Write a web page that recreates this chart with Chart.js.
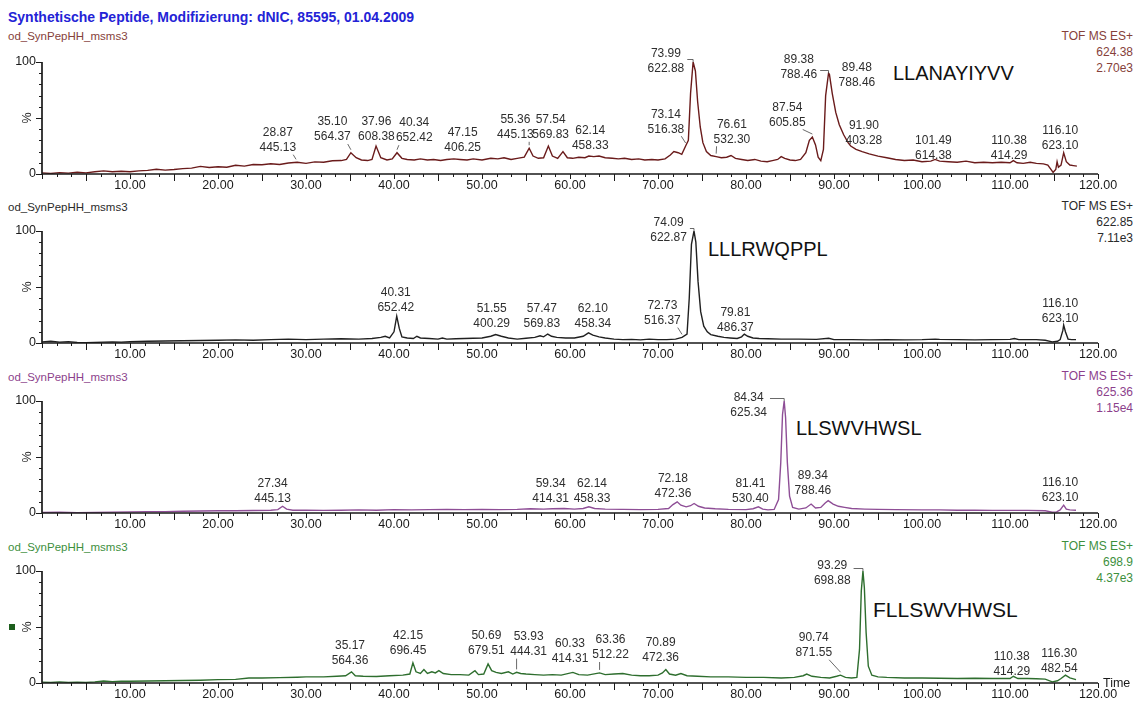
<!DOCTYPE html>
<html>
<head>
<meta charset="utf-8">
<script src="https://cdn.jsdelivr.net/npm/chart.js@4.4.0/dist/chart.umd.min.js"></script>
<style>
body{margin:0;background:#fff;width:1140px;height:707px;overflow:hidden;position:relative;font-family:Arial,"Liberation Sans",sans-serif}
canvas{position:absolute;left:0}
.t{position:absolute;white-space:nowrap}
.sub{left:8px;font-size:11.5px;line-height:14px}
.rt{right:7px;text-align:right;font-size:12px;line-height:16px}
.pep{font-size:20px;line-height:24px;color:#111}
</style>
</head>
<body>
<div class="t" style="left:8px;top:9px;font-size:14px;line-height:16px;font-weight:bold;color:#2323d6">Synthetische Peptide, Modifizierung: dNIC, 85595, 01.04.2009</div>

<div class="t sub" style="top:29px;color:#86413a">od_SynPepHH_msms3</div>
<div class="t sub" style="top:200px;color:#2a2a2a">od_SynPepHH_msms3</div>
<div class="t sub" style="top:370px;color:#8c3f8c">od_SynPepHH_msms3</div>
<div class="t sub" style="top:540px;color:#3d8f3d">od_SynPepHH_msms3</div>

<div class="t rt" style="top:28px;color:#86413a">TOF MS ES+<br>624.38<br>2.70e3</div>
<div class="t rt" style="top:198px;color:#2a2a2a">TOF MS ES+<br>622.85<br>7.11e3</div>
<div class="t rt" style="top:368px;color:#8c3f8c">TOF MS ES+<br>625.36<br>1.15e4</div>
<div class="t rt" style="top:538px;color:#3d8f3d">TOF MS ES+<br>698.9<br>4.37e3</div>

<div class="t pep" style="left:893px;top:61px">LLANAYIYVV</div>
<div class="t pep" style="left:708px;top:237px">LLLRWQPPL</div>
<div class="t pep" style="left:796px;top:416px">LLSWVHWSL</div>
<div class="t pep" style="left:873px;top:598px;font-size:21px">FLLSWVHWSL</div>

<canvas id="c1" width="1140" height="165" style="top:40px"></canvas>
<canvas id="c2" width="1140" height="165" style="top:209px"></canvas>
<canvas id="c3" width="1140" height="165" style="top:379px"></canvas>
<canvas id="c4" width="1140" height="165" style="top:549px"></canvas>

<script>
// x axis labels (minutes)
var xTicks = [10, 20, 30, 40, 50, 60, 70, 80, 90, 100, 110, 120]

// trace 1 - LLANAYIYVV
var t1 = [0,1,2,3,4,5,6,7,8,9,
  10,11,12,13,14,15,16,17,18,19,
  20,21,22,23,24,25,26,27,28,29,
  30,31,32,33,34,34.6,35.1,35.7,36.3,37,
  37.5,37.96,38.5,39.2,39.8,40.34,40.9,41.5,42.3,43,
  43.8,44.5,45.3,46,46.8,47.5,48.3,49,50,51,
  51.8,52.5,53.3,54,54.8,55.36,55.8,56.4,57,57.54,
  58,58.6,59.2,59.7,60.3,61,61.7,62.14,62.7,63.3,
  64,64.8,65.5,66.2,67,67.8,68.5,69.3,70,70.8,
  71.4,71.8,72.3,72.7,73.14,73.45,73.7,73.99,74.25,74.5,
  74.8,75.1,75.5,76,76.61,77.2,77.8,78.3,78.8,79.5,
  80.2,81,81.7,82.4,83,83.6,84,84.4,85,85.6,
  86.2,86.8,87.2,87.54,87.9,88.2,88.5,88.8,89.05,89.38,
  89.48,89.8,90.2,90.6,91.1,91.6,91.9,92.5,93.2,94,
  95,96,97,98,99,100,101,101.49,102,103,
  104,105,106,107,108,109,110,110.38,110.8,111.5,
  112.3,113,113.8,114.3,114.9,115.2,115.35,115.5,115.8,116.1,
  116.4,116.8,117.2,117.6]
var v1 = [1,0.5,1.2,0.8,1.5,1,2,2.8,2,2.5,
  2,2.8,3.2,4.2,3.5,4,4.8,5.2,6.8,5.8,
  6.5,6,7.8,7,8.5,8.2,9.2,8.5,9.8,10.5,
  9.5,10.8,10.5,11.8,12,13,19,14.5,12.5,12,
  13,25,14.5,12.5,13.5,19,14,13,12.5,13.5,
  12.5,13,12,13,13.5,13,12.5,13.5,12.5,14,
  13.5,14.5,13,14,15,23,16,14,14.5,25,
  16,14,20,14.5,14,15,14.5,16,15.5,16,
  14.5,14,13.5,14,13,13.5,12.5,13,12.5,13.5,
  17,20,19,17.5,25,30,72,100,92,65,
  42,28,20,16.5,15.5,14.5,15,16.5,14,13,
  12,13,11.5,11,12,13,15.5,14,12.5,12,
  13,19,30,33,26,15,12,22,70,90,
  89,72,55,44,35,28,25,22,20,18,
  16,14.5,13,12,12.5,11,11.5,13,11.5,11,
  10.5,11.5,10,10.5,10,10.5,10,12,10,9.5,
  10.5,9.5,9,8,1.5,4,11,6,8,19,
  11,8,7.5,7]

// trace 2 - LLLRWQPPL
var t2 = [0,1,2,3,4,5,6,7,8,9,
  10,12,14,16,18,20,22,24,26,28,
  30,32,34,36,37.5,38.5,39,39.5,40,40.31,
  40.6,40.9,41.5,42.2,42.6,43,44,45,45.5,46,
  47,48,49,50,51,51.55,52.2,53,54,55,
  56,56.6,57,57.47,57.9,58.5,59.5,60.5,61.5,62.1,
  62.6,63.3,64,65,66,67,68,69,70,71,
  72,72.73,73.3,73.55,73.8,74.09,74.3,74.55,74.85,75.2,
  75.6,76,76.8,77.5,78.2,79,79.5,79.81,80.2,80.8,
  81.5,82.5,84,86,88,89.4,90,92,94,96,
  98,100,101.5,102,104,106,108,110,110.5,111,
  113,114,114.8,115.4,115.7,116,116.1,116.3,116.6,117,
  117.5]
var v2 = [1,1.5,0.8,1.2,0.5,0.3,0.5,0.8,1,0.8,
  1.2,1.5,1.8,2,2.2,2.5,2.8,2.5,3,3.5,
  3,3.5,3.8,3.5,4,5,6,4.5,10,24,
  13,5.5,4.5,4,6,4.5,4,3.5,4.5,3.5,
  3.8,4,4.2,4.5,6,7.5,6,4.5,3.5,4.2,
  5,6.5,5.5,8,6,5,4.5,4.5,6,9,
  7,5.5,4.5,3.5,3,3.2,2.8,3.5,3,3,
  3.5,5,8,40,88,100,90,55,28,15,
  10,7.5,6,5,4.5,4,5.5,8,6,4.5,
  4,3.8,3.5,3.5,3.2,4.2,3,3,2.8,3,
  2.8,3,3.5,3.2,3,2.8,3,3.2,4,3,
  3,2.5,1,1.5,3,11,16,10,3.5,3,
  3]

// trace 3 - LLSWVHWSL
var t3 = [0,2,4,6,8,10,12,14,16,18,
  20,22,24,26,26.8,27.34,27.8,28.5,30,32,
  34,36,38,40,42,44,46,48,50,52,
  54,55.5,57,58,59.34,60.5,61.5,62.14,62.8,64,
  66,68,70,71.2,71.7,72.18,72.6,73.2,73.7,74.1,
  74.6,75.3,76.5,78,80,80.8,81.41,81.9,82.5,83.2,
  83.7,83.95,84.15,84.34,84.5,84.7,84.95,85.3,86,86.8,
  87.4,87.9,88.5,89,89.34,89.9,90.5,91.2,92,93.5,
  95,97,100,102,104,106,108,110,112,114,
  114.8,115.3,115.7,116.1,116.4,116.8,117.5]
var v3 = [0.5,0.8,0.3,0.6,0.8,1,1.2,1.2,1.5,1.8,
  2,2,2.2,2.5,3,6,3.5,2.5,2.5,2.3,
  2.5,2.8,2.5,3,2.8,3,3.2,3,3.2,3,
  3.2,3.8,3.5,3.8,4,3.5,4,5.5,4,3.5,
  3.2,3,3.2,4,7.5,10,7,5.5,6.5,8.5,
  6,4.5,3.8,3.2,3,3.8,5.5,3.5,2.8,3.2,
  12,45,88,100,85,45,15,5,3.5,4.5,
  8,4.5,5,9,11,8,6,5,4,3.5,
  3.2,3,2.8,2.8,2.5,2.5,2.3,2.3,2.3,2,
  0.8,1,2.8,7,3.5,2.8,2.5]

// trace 4 - FLLSWVHWSL
var t4 = [0,1,2,3,4,5,6,7,8,9,
  10,12,14,16,18,20,22,23.5,25,27,
  29,30,32,33.5,34.5,35.17,35.6,36.5,38,39.5,
  41,41.8,42.15,42.5,43,43.4,43.8,44.3,44.7,45.1,
  45.6,46.5,47.5,48.5,49.2,49.6,50.2,50.69,51.1,51.6,
  52.2,53,53.5,53.93,54.4,55,56,57,58,59,
  60.33,61,62,63.36,64,65,66,67,68,69,
  70,70.5,70.89,71.3,72,72.6,73.3,74.5,76,78,
  80,82,84,85.5,86.5,86.9,87.5,88.5,89.5,90.3,
  90.74,91.3,92,92.6,92.9,93.1,93.29,93.45,93.65,93.9,
  94.3,95,96,98,100,102,104,106,108,110,
  110.38,110.9,112,113,114,114.8,115.4,115.8,116.3,116.8,
  117.5]
var v4 = [0.8,0.5,1,0.5,0.8,0.6,1,1.8,1.2,1.5,
  1.5,1.8,2,2.2,2.5,3,3.2,4.5,4.5,4.8,
  5.2,5.5,5.5,6,6.5,10,6.5,6,5.8,6.5,
  7,8,18,10,8.5,12,8.5,10,9,11,
  8.5,7.5,7.5,7,11,7.5,8,17,11,9.5,
  8.5,10,8,9.5,8.5,8,7.5,7,7.5,7,
  9.5,7.5,7,9,7.5,8,8.5,7,6.5,6.5,
  7,9,12,8,7,8.5,6.5,6,5.5,5.5,
  5,5,4.5,5,6.5,8,6,5,4.5,6,
  7,5,4.5,5,30,82,100,85,45,15,
  7,5.5,5,4.5,4.5,4.2,4,4.2,4,4,
  6,4,4,3.8,3.5,1,2,4,7,4.5,
  3]

// peak labels: retention time and m/z
var rt1 = ['28.87','35.10','37.96','40.34','47.15','55.36','57.54','62.14','73.14','73.99','76.61','87.54','89.38','89.48','91.90','101.49','110.38','116.10']
var mz1 = ['445.13','564.37','608.38','652.42','406.25','445.13','569.83','458.33','516.38','622.88','532.30','605.85','788.46','788.46','403.28','614.38','414.29','623.10']
var rt2 = ['40.31','51.55','57.47','62.10','72.73','74.09','79.81','116.10']
var mz2 = ['652.42','400.29','569.83','458.34','516.37','622.87','486.37','623.10']
var rt3 = ['27.34','59.34','62.14','72.18','81.41','84.34','89.34','116.10']
var mz3 = ['445.13','414.31','458.33','472.36','530.40','625.34','788.46','623.10']
var rt4 = ['35.17','42.15','50.69','53.93','60.33','63.36','70.89','90.74','93.29','110.38','116.30']
var mz4 = ['564.36','696.45','679.51','444.31','414.31','512.22','472.36','871.55','698.88','414.29','482.54']

// label placement (layout only): [centre time, level %, leader 0 none / 1 line / 2 bracket]
var lay1 = [[26.8,23.5,1],[33,33,1],[38,33,0],[42.3,32,1],[47.8,23.5,0],[53.8,35,1],[57.8,35,0],[62.3,25,0],[70.9,40,1],[70.9,94,2],[78.4,31,1],[84.7,46,1],[86,89,2],[92.6,81.5,0],[93.4,30,1],[101.3,16.5,0],[109.9,16.5,0],[115.7,25,0]]
var lay2 = [[40.2,31.5,0],[51.1,17,0],[56.8,17,0],[62.6,17,0],[70.5,20,1],[71.2,94,2],[78.8,14,0],[115.7,21.5,0]]
var lay3 = [[26.2,12.5,0],[57.8,13,1],[62.5,13,0],[71.7,17,0],[80.5,13,0],[80.3,89.5,2],[87.6,19.5,0],[115.7,13.5,0]]
var lay4 = [[35,20,0],[41.6,29,0],[50.5,29,0],[55.3,28,1],[60,22,0],[64.6,25,1],[70.3,23,0],[87.7,27,1],[89.8,91,2],[110.2,10.5,0],[115.6,13,0]]

function valueAt(t, v, x) {
  for (var i = 1; i < t.length; i++) {
    if (t[i] >= x) {
      var f = (x - t[i-1]) / (t[i] - t[i-1])
      return v[i-1] + f * (v[i] - v[i-1])
    }
  }
  return v[v.length - 1]
}

var chromAxes = {
  id: 'chromAxes',
  afterDatasetsDraw: function(chart) {
    var o = chart.options.plugins.chromAxes
    var ctx = chart.ctx, xs = chart.scales.x, ys = chart.scales.y
    var x0 = Math.round(xs.getPixelForValue(0)), x1 = Math.round(xs.getPixelForValue(120))
    var y0 = Math.round(ys.getPixelForValue(0)), y100 = Math.round(ys.getPixelForValue(100))
    ctx.save()
    ctx.strokeStyle = '#1a1a1a'
    ctx.fillStyle = '#1a1a1a'
    // axis lines
    ctx.lineWidth = 1.7
    ctx.beginPath()
    ctx.moveTo(x0, y100); ctx.lineTo(x0, y0); ctx.lineTo(x1, y0)
    ctx.stroke()
    ctx.lineWidth = 1
    // y ticks
    for (var p = 0; p <= 100; p += 10) {
      var yy = Math.round(ys.getPixelForValue(p)) + 0.5
      var len = (p % 50 === 0) ? 6 : 3
      ctx.beginPath(); ctx.moveTo(x0 - len, yy); ctx.lineTo(x0, yy); ctx.stroke()
    }
    // x ticks
    for (var k = 0; k <= 72; k++) {
      var xx = Math.round(xs.getPixelForValue(k * 5 / 3)) + 0.5
      var l2 = (k % 6 === 3) ? 7 : ((k % 6 === 0) ? 5 : 3)
      ctx.beginPath(); ctx.moveTo(xx, y0); ctx.lineTo(xx, y0 + l2); ctx.stroke()
    }
    ctx.font = '12.5px Arial'
    ctx.textBaseline = 'middle'
    ctx.textAlign = 'center'
    xTicks.forEach(function(v) {
      ctx.fillText(v.toFixed(2), xs.getPixelForValue(v), y0 + 12)
    })
    ctx.textAlign = 'right'
    ctx.fillText('100', x0 - 6, y100)
    ctx.fillText('0', x0 - 6, y0)
    if (o.time) {
      ctx.textAlign = 'left'
      ctx.fillText('Time', x1 + 5, y0 + 1)
    }
    var y50 = ys.getPixelForValue(50)
    if (o.marker) {
      ctx.fillStyle = '#1d5e1d'
      ctx.fillRect(9, Math.round(y50) - 3, 6, 6)
      ctx.fillStyle = '#1a1a1a'
    }
    ctx.save()
    ctx.translate(x0 - 14, y50)
    ctx.rotate(-Math.PI / 2)
    ctx.textAlign = 'center'
    ctx.fillText('%', 0, 0)
    ctx.restore()

    // peak annotations
    ctx.font = '12px Arial'
    ctx.fillStyle = '#2e2e2e'
    ctx.strokeStyle = '#444'
    ctx.lineWidth = 0.8
    ctx.textAlign = 'center'
    o.rt.forEach(function(r, i) {
      var L = o.lay[i]
      var lx = xs.getPixelForValue(L[0]), ly = ys.getPixelForValue(L[1])
      ctx.fillText(r, lx, ly - 15)
      ctx.fillText(o.mz[i], lx, ly)
      var w = Math.max(ctx.measureText(r).width, ctx.measureText(o.mz[i]).width)
      var rv = parseFloat(r)
      var px = xs.getPixelForValue(rv), py = ys.getPixelForValue(valueAt(o.t, o.v, rv))
      if (L[2] === 1) {
        var sx = Math.min(Math.max(px, lx - w / 2 + 3), lx + w / 2 - 3)
        var sy = ly + 7
        if (py - 3 > sy) {
          ctx.beginPath(); ctx.moveTo(sx, sy); ctx.lineTo(px, py - 3); ctx.stroke()
        }
      } else if (L[2] === 2) {
        var by = Math.round(py) - 2.5
        ctx.beginPath()
        ctx.moveTo(lx + w / 2 + 3, by); ctx.lineTo(px, by); ctx.lineTo(px, py)
        ctx.stroke()
      }
    })
    ctx.restore()
  }
}

function makePanel(id, t, v, color, rt, mz, lay, extra) {
  var pts = []
  for (var i = 0; i < Math.min(t.length, v.length); i++) pts.push({x: t[i], y: v[i]})
  return new Chart(document.getElementById(id).getContext('2d'), {
    type: 'line',
    data: {
      datasets: [{
        data: pts,
        borderColor: color,
        borderWidth: 1.4,
        pointRadius: 0,
        tension: 0,
        fill: false
      }]
    },
    options: {
      responsive: false,
      animation: false,
      events: [],
      layout: {padding: {left: 42, right: 42, top: 22, bottom: 31}},
      scales: {
        x: {type: 'linear', min: 0, max: 120, display: false},
        y: {min: 0, max: 100, display: false}
      },
      plugins: {
        legend: {display: false},
        tooltip: {enabled: false},
        chromAxes: {t: t, v: v, rt: rt, mz: mz, lay: lay, time: !!extra, marker: !!extra}
      }
    },
    plugins: [chromAxes]
  })
}

makePanel('c1', t1, v1, '#6a1b1b', rt1, mz1, lay1, false)
makePanel('c2', t2, v2, '#202020', rt2, mz2, lay2, false)
makePanel('c3', t3, v3, '#8e4e96', rt3, mz3, lay3, false)
makePanel('c4', t4, v4, '#2e6e2e', rt4, mz4, lay4, true)
</script>
</body>
</html>
